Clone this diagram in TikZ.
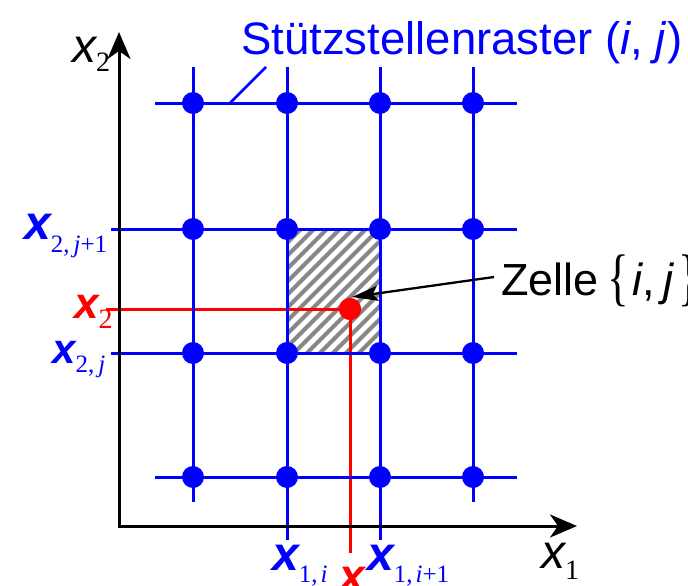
\documentclass[tikz,border=0pt]{standalone}
\usepackage{fontspec}
\setmainfont{Liberation Sans}
\newfontfamily\serifx{Liberation Serif}
\usetikzlibrary{arrows.meta}
\definecolor{gblue}{RGB}{0,0,255}
\definecolor{gred}{RGB}{255,0,0}
\definecolor{hatchgray}{RGB}{135,135,135}
\newcommand\xlab[4]{{\fontsize{#1}{#1}\selectfont\itshape x}\raisebox{-#3}{\fontsize{#2}{#2}\selectfont\serifx #4}}
\newcommand\xlabb[4]{{\fontsize{#1}{#1}\selectfont\bfseries\itshape x}\raisebox{-#3}{\fontsize{#2}{#2}\selectfont\serifx #4}}
\begin{document}
\begin{tikzpicture}[x=1pt,y=-1pt,
  gridline/.style={gblue, line width=3pt},
  dot/.style={circle, fill=gblue, inner sep=0pt, minimum size=22pt},
  reddot/.style={circle, fill=gred, inner sep=0pt, minimum size=22pt},
  redline/.style={gred, line width=3pt},
  axisline/.style={black, line width=3pt, line join=miter,
     {Stealth[length=27pt,width=23pt,inset=8pt]}-{Stealth[length=27pt,width=23pt,inset=8pt]}},
  lab/.style={anchor=base west, inner sep=0pt},
  hatchline/.style={hatchgray, line width=4pt}]
\useasboundingbox (0,0) rectangle (688,586);
\clip (0,0) rectangle (688,586);

% hatched cell
\begin{scope}
  \clip (287,229) rectangle (380,353);
  \foreach \k in {-156,-143,...,100}
    \draw[hatchline] (287+\k,360) -- ++(160,-160);
\end{scope}

% red lines
\coordinate (rl) at (106,309);
\coordinate (rb) at (350,553);
\node[reddot] (p) at (350,309) {};
\draw[redline] (rl) -- (p.center) -- (rb);

% grid coordinates
\coordinate (c1t) at (193,67);  \coordinate (c1b) at (193,502);
\coordinate (c2t) at (287,67);  \coordinate (c2b) at (287,540);
\coordinate (c3t) at (380,67);  \coordinate (c3b) at (380,540);
\coordinate (c4t) at (473,67);  \coordinate (c4b) at (473,502);
\coordinate (r1l) at (155,103); \coordinate (r1r) at (517,103);
\coordinate (r2l) at (111,229); \coordinate (r2r) at (517,229);
\coordinate (r3l) at (111,353); \coordinate (r3r) at (517,353);
\coordinate (r4l) at (155,477); \coordinate (r4r) at (517,477);
\foreach \c in {1,2,3,4} \draw[gridline] (c\c t) -- (c\c b);
\foreach \r in {1,2,3,4} \draw[gridline] (r\r l) -- (r\r r);

% axes
\coordinate (ytip) at (119,32);
\coordinate (o) at (119,526);
\coordinate (xtip) at (577,526);
\draw[axisline] (ytip) -- (o) -- (xtip);

% dots
\foreach \x [count=\i] in {193,287,380,473}
  \foreach \y [count=\j] in {103,229,353,477}
    \node[dot] (d\i\j) at (\x,\y) {};
\node[reddot] (p2) at (p) {};

% Stuetzstellenraster label
\node[lab, text=gblue] (title) at (241,55)
  {\fontsize{45.5}{50}\selectfont Stützstellenraster (\textit{i}, \textit{j})};
\coordinate (ta) at (230,103);
\coordinate (tb) at (266,67);
\draw[gblue, line width=2.5pt] (ta) -- (tb);

% Zelle label and arrow
\node[lab] (zelle) at (501,295)
  {\fontsize{45}{50}\selectfont Zelle\hspace{9pt}\raisebox{-3pt}{\scalebox{1}[1.4]{\serifx\{}}\hspace{3pt}\textit{i},\hspace{9pt}\textit{j}\hspace{4pt}\raisebox{-3pt}{\scalebox{1}[1.4]{\serifx\}}}};
\coordinate (za) at (494,277);
\coordinate (zb) at (352,297);
\draw[black, line width=2.3pt, -{Stealth[length=26pt,width=15pt,inset=5pt]}] (za) -- (zb);

% axis and grid labels
\node[lab] (lx2) at (72,63) {\xlab{48}{28}{9pt}{2}};
\node[lab] (lx1) at (541,568) {\xlab{48}{28}{11pt}{1}};
\node[lab, text=gblue] (l2j1) at (24,239) {\xlabb{48}{25}{13pt}{2,\kern4pt\textit{j}+1}};
\node[lab, text=gred] (lr2) at (74,318) {\xlabb{44}{28}{10pt}{2}};
\node[lab, text=gblue] (l2j) at (52,363) {\xlabb{42}{25}{9pt}{2,\kern4pt\textit{j}}};
\node[lab, text=gblue] (l1i) at (272,570) {\xlabb{48}{25}{12pt}{1,\kern3pt\textit{i}}};
\node[lab, text=gred] (lr1) at (339,591) {\xlabb{46}{25}{12pt}{1}};
\node[lab, text=gblue] (l1i1) at (367,570) {\xlabb{48}{25}{12pt}{1,\kern3pt\textit{i}+1}};
\end{tikzpicture}
\end{document}
